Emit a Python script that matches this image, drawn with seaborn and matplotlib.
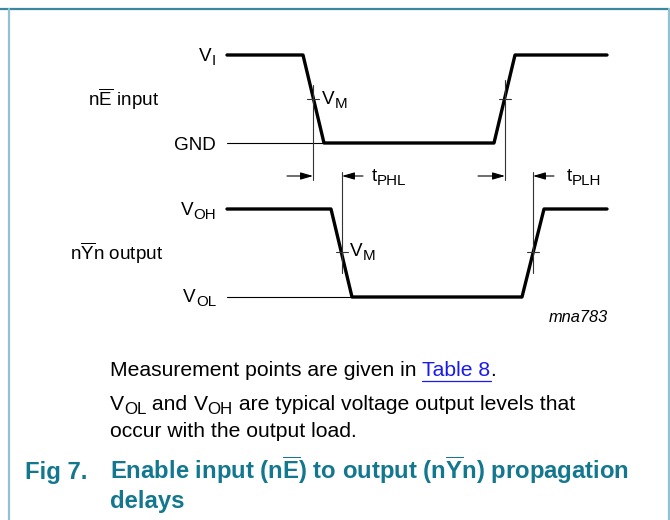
from matplotlib import pyplot as plt
import seaborn as sns

# waveform corner points (x = time axis, y = level), in diagram pixel units
in_time = [227, 303, 324, 494, 515, 607]
in_level = [55, 55, 143, 143, 55, 55]
out_time = [227, 331, 352, 522, 544, 607]
out_level = [209, 209, 297, 297, 209, 209]

# V_M crossing points (x, y)
vm_x = [313, 505, 342, 533]
vm_y = [99, 99, 252, 252]

# reference line spans of the measurement markers
mark_x = [313, 505, 342, 533]
mark_top = [85, 80, 172, 172]
mark_bottom = [180, 180, 273, 273]

# level labels: (main, subscript)
level_main = ["V", "GND", "V", "V"]
level_sub = ["I", "", "OH", "OL"]
level_label_y = [61, 150, 215, 302]

TEAL = "#13788f"
LINK = "#1a1aee"

sns.set_theme(style="white")
plt.rcParams["font.family"] = ["Liberation Sans", "DejaVu Sans"]
plt.rcParams["text.color"] = "black"
plt.rcParams["mathtext.fontset"] = "custom"
plt.rcParams["mathtext.rm"] = "Liberation Sans"
plt.rcParams["mathtext.it"] = "Liberation Sans:italic"
plt.rcParams["mathtext.bf"] = "Liberation Sans:bold"

fig = plt.figure(figsize=(6.7, 5.2), dpi=100)
ax = fig.add_axes([0, 0, 1, 1])
ax.set_xlim(0, 670)
ax.set_ylim(520, 0)
ax.axis("off")
fig.canvas.draw()
rend = fig.canvas.get_renderer()


def width(t):
    # one data unit == one pixel here
    return t.get_window_extent(rend).width


def sub_text(x, y, main, sub, fs, ha="left", **kw):
    """text with a subscript, like V_OH in the datasheet"""
    t = ax.text(0, y, main, fontsize=fs, va="baseline", **kw)
    s = ax.text(0, y + fs * 0.2 * 100 / 72, sub, fontsize=fs * 0.8, va="baseline", **kw)
    wm = width(t)
    ws = width(s) if sub else 0
    x0 = x - wm - ws if ha == "right" else x
    t.set_x(x0)
    s.set_x(x0 + wm)
    return x0 + wm + ws


# frame
ax.plot([0, 669], [9, 9], color="#3b879c", lw=1.6, solid_capstyle="butt")
ax.plot([9, 9], [9, 520], color="#8fc2d2", lw=1.6)
ax.plot([669, 669], [9, 520], color="#8fc2d2", lw=1.6)

# thin level lines for GND and V_OL
ax.plot([227, in_time[2]], [in_level[2], in_level[2]], color="black", lw=0.8)
ax.plot([227, out_time[2]], [out_level[2], out_level[2]], color="black", lw=0.8)

# waveforms
sns.lineplot(x=in_time, y=in_level, sort=False, estimator=None, ax=ax,
             color="black", lw=2.4)
sns.lineplot(x=out_time, y=out_level, sort=False, estimator=None, ax=ax,
             color="black", lw=2.4)

# measurement markers
for x, y0, y1 in zip(mark_x, mark_top, mark_bottom):
    ax.plot([x, x], [y0, y1], color="#333333", lw=0.8)
for x, y in zip(vm_x, vm_y):
    ax.plot([x - 6, x + 6], [y, y], color="#333333", lw=0.8)

# delay arrows
arrow = dict(arrowstyle="-|>,head_length=0.75,head_width=0.22", color="black",
             lw=0.8, shrinkA=0, shrinkB=0, mutation_scale=10)
ax.annotate("", xy=(313, 176), xytext=(287, 176), arrowprops=arrow)
ax.annotate("", xy=(505, 176), xytext=(478, 176), arrowprops=arrow)
ax.annotate("", xy=(342, 176), xytext=(363, 176), arrowprops=arrow)
ax.annotate("", xy=(533, 176), xytext=(554, 176), arrowprops=arrow)

# labels
fs = 13.6
for m, s, y in zip(level_main, level_sub, level_label_y):
    sub_text(216, y, m, s, fs, ha="right")
ax.text(88, 106, "n$\\overline{\\mathrm{E}}$ input", ha="left", va="baseline", fontsize=fs)
ax.text(70, 260, "n$\\overline{\\mathrm{Y}}$n output", ha="left", va="baseline", fontsize=fs)
sub_text(322, 104, "V", "M", fs)
sub_text(350, 256, "V", "M", fs)
sub_text(372, 181, "t", "PHL", fs)
sub_text(567, 181, "t", "PLH", fs)
ax.text(608, 322, "mna783", ha="right", va="baseline", fontsize=11.8, style="italic")

# notes
bfs = 15.2
t1 = ax.text(110, 376, "Measurement points are given in ", ha="left", va="baseline", fontsize=bfs)
x_link = 110 + width(t1)
t2 = ax.text(x_link, 376, "Table 8", ha="left", va="baseline", fontsize=bfs, color=LINK)
x_end = x_link + width(t2)
ax.plot([x_link, x_end], [381, 381], color=LINK, lw=0.9)
ax.text(x_end, 376, ".", ha="left", va="baseline", fontsize=bfs)
x = sub_text(110, 410, "V", "OL", bfs)
x = x + width(ax.text(x, 410, " and ", va="baseline", fontsize=bfs))
x = sub_text(x, 410, "V", "OH", bfs)
ax.text(x, 410, " are typical voltage output levels that", va="baseline", fontsize=bfs)
ax.text(110, 437, "occur with the output load.", ha="left", va="baseline", fontsize=bfs)

# caption
tfs = 17.2
ax.text(25, 479, "Fig 7.", ha="left", va="baseline", fontsize=tfs, fontweight="bold", color=TEAL)
ax.text(110, 479, "Enable input (n$\\overline{\\mathbf{E}}$) to output (n$\\overline{\\mathbf{Y}}$n) propagation",
        ha="left", va="baseline", fontsize=tfs, fontweight="bold", color=TEAL)
ax.text(110, 508, "delays", ha="left", va="baseline", fontsize=tfs, fontweight="bold", color=TEAL)

fig.savefig("out.png", dpi=100)
